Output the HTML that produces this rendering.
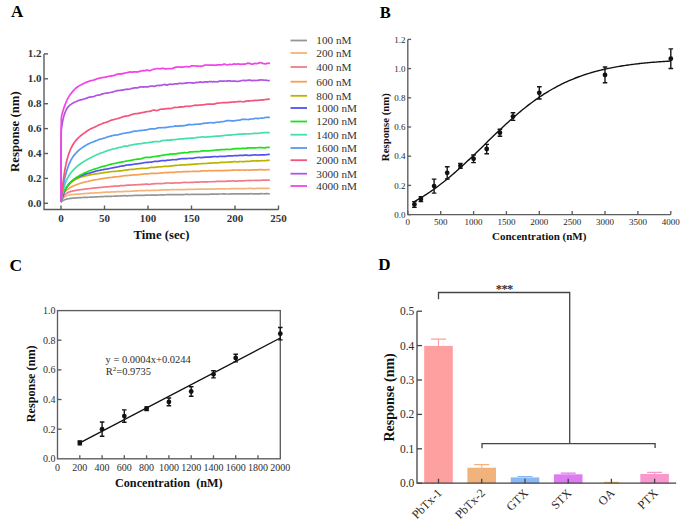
<!DOCTYPE html>
<html><head><meta charset="utf-8"><style>
html,body{margin:0;padding:0;background:#fff;width:686px;height:531px;overflow:hidden;position:relative}
</style></head><body>
<svg width="686" height="531" viewBox="0 0 686 531" style="position:absolute;left:0;top:0">
<g font-family='"Liberation Serif", serif' font-weight="bold" fill="#000">
<text x="11" y="17.3" font-size="17">A</text>
<text x="379.8" y="17.9" font-size="16.5">B</text>
<text x="9.6" y="271.4" font-size="17.5">C</text>
<text x="378.2" y="269.8" font-size="17">D</text>
</g>
<g stroke="#5c5c5c" stroke-width="1.4" fill="none">
<path d="M44,53.9 V209.5 H278.6"/>
<path d="M44,203.3 H48"/>
<path d="M44,178.4 H48"/>
<path d="M44,153.5 H48"/>
<path d="M44,128.6 H48"/>
<path d="M44,103.7 H48"/>
<path d="M44,78.8 H48"/>
<path d="M44,53.9 H48"/>
<path d="M61.0,209.5 V205.5"/>
<path d="M104.5,209.5 V205.5"/>
<path d="M148.0,209.5 V205.5"/>
<path d="M191.5,209.5 V205.5"/>
<path d="M235.0,209.5 V205.5"/>
<path d="M278.5,209.5 V205.5"/>
</g>
<g font-family='"Liberation Serif", serif' font-weight="bold" fill="#333" font-size="11">
<text x="41.5" y="206.8" text-anchor="end">0.0</text>
<text x="41.5" y="181.9" text-anchor="end">0.2</text>
<text x="41.5" y="157.0" text-anchor="end">0.4</text>
<text x="41.5" y="132.1" text-anchor="end">0.6</text>
<text x="41.5" y="107.2" text-anchor="end">0.8</text>
<text x="41.5" y="82.3" text-anchor="end">1.0</text>
<text x="41.5" y="57.4" text-anchor="end">1.2</text>
<text x="61.0" y="221.8" text-anchor="middle">0</text>
<text x="104.5" y="221.8" text-anchor="middle">50</text>
<text x="148.0" y="221.8" text-anchor="middle">100</text>
<text x="191.5" y="221.8" text-anchor="middle">150</text>
<text x="235.0" y="221.8" text-anchor="middle">200</text>
<text x="278.5" y="221.8" text-anchor="middle">250</text>
</g>
<text x="161.5" y="238.5" font-family='"Liberation Serif", serif' font-weight="bold" font-size="12.7" fill="#111" text-anchor="middle">Time (sec)</text>
<text transform="translate(18.5,131.6) rotate(-90)" font-family='"Liberation Serif", serif' font-weight="bold" font-size="12.8" fill="#111" text-anchor="middle">Response (nm)</text>
<polyline points="61.00,202.06 61.09,201.97 61.17,201.89 61.26,201.81 61.35,201.74 61.44,201.66 61.52,201.59 61.70,201.44 61.87,201.30 62.04,201.17 62.22,201.05 62.39,200.93 62.57,200.81 62.74,200.70 62.91,200.59 63.09,200.49 63.26,200.39 63.44,200.30 63.61,200.21 64.05,200.00 64.73,199.71 65.42,199.47 66.11,199.26 66.80,199.07 67.49,198.91 68.17,198.78 68.86,198.66 69.55,198.55 70.24,198.45 70.93,198.37 71.61,198.28 72.30,198.22 72.99,198.16 73.68,198.11 74.37,198.06 75.06,198.01 75.74,197.94 76.43,197.90 77.12,197.86 77.81,197.80 78.50,197.76 79.18,197.71 79.87,197.66 80.56,197.61 81.25,197.56 81.94,197.52 82.62,197.51 83.31,197.47 84.00,197.43 84.69,197.41 85.38,197.38 86.07,197.34 86.75,197.34 87.44,197.30 88.13,197.26 88.82,197.24 89.51,197.21 90.19,197.16 90.88,197.13 91.57,197.13 92.26,197.09 92.95,197.05 93.64,196.99 94.32,197.00 95.01,196.95 95.70,196.90 96.39,196.89 97.08,196.85 97.76,196.81 98.45,196.76 99.14,196.76 99.83,196.69 100.52,196.70 101.20,196.65 101.89,196.66 102.58,196.58 103.27,196.57 103.96,196.52 104.65,196.47 105.33,196.40 106.02,196.42 106.71,196.42 107.40,196.43 108.09,196.40 108.77,196.41 109.46,196.39 110.15,196.35 110.84,196.30 111.53,196.30 112.22,196.27 112.90,196.27 113.59,196.24 114.28,196.19 114.97,196.17 115.66,196.10 116.34,196.04 117.03,196.01 117.72,196.03 118.41,196.00 119.10,196.01 119.78,195.97 120.47,195.96 121.16,195.92 121.85,195.91 122.54,195.79 123.23,195.73 123.91,195.66 124.60,195.71 125.29,195.71 125.98,195.78 126.67,195.79 127.35,195.89 128.04,195.77 128.73,195.70 129.42,195.71 130.11,195.74 130.79,195.67 131.48,195.69 132.17,195.68 132.86,195.55 133.55,195.51 134.24,195.43 134.92,195.41 135.61,195.36 136.30,195.38 136.99,195.31 137.68,195.35 138.36,195.35 139.05,195.41 139.74,195.37 140.43,195.38 141.12,195.33 141.81,195.33 142.49,195.27 143.18,195.32 143.87,195.36 144.56,195.31 145.25,195.20 145.93,195.21 146.62,195.19 147.31,195.18 148.00,195.22 148.69,195.27 149.37,195.22 150.06,195.18 150.75,195.12 151.44,195.06 152.13,195.05 152.82,195.12 153.50,195.12 154.19,195.11 154.88,195.12 155.57,195.13 156.26,195.09 156.94,195.07 157.63,195.03 158.32,195.01 159.01,194.98 159.70,194.92 160.39,194.87 161.07,194.83 161.76,194.87 162.45,194.82 163.14,194.85 163.83,194.86 164.51,194.87 165.20,194.75 165.89,194.73 166.58,194.70 167.27,194.64 167.95,194.66 168.64,194.69 169.33,194.69 170.02,194.70 170.71,194.67 171.40,194.61 172.08,194.52 172.77,194.54 173.46,194.52 174.15,194.58 174.84,194.57 175.52,194.65 176.21,194.63 176.90,194.60 177.59,194.55 178.28,194.58 178.97,194.52 179.65,194.54 180.34,194.56 181.03,194.62 181.72,194.63 182.41,194.65 183.09,194.58 183.78,194.54 184.47,194.48 185.16,194.38 185.85,194.37 186.53,194.38 187.22,194.39 187.91,194.45 188.60,194.47 189.29,194.53 189.98,194.50 190.66,194.48 191.35,194.38 192.04,194.40 192.73,194.36 193.42,194.36 194.10,194.37 194.79,194.40 195.48,194.39 196.17,194.36 196.86,194.37 197.54,194.37 198.23,194.36 198.92,194.42 199.61,194.42 200.30,194.44 200.99,194.37 201.67,194.31 202.36,194.30 203.05,194.28 203.74,194.24 204.43,194.30 205.11,194.31 205.80,194.26 206.49,194.31 207.18,194.31 207.87,194.27 208.56,194.28 209.24,194.30 209.93,194.21 210.62,194.17 211.31,194.19 212.00,194.21 212.68,194.17 213.37,194.20 214.06,194.16 214.75,194.11 215.44,194.11 216.12,194.13 216.81,194.10 217.50,194.08 218.19,194.08 218.88,194.04 219.57,193.99 220.25,193.98 220.94,193.98 221.63,193.98 222.32,193.95 223.01,193.96 223.69,193.93 224.38,194.04 225.07,193.96 225.76,193.98 226.45,193.98 227.14,194.02 227.82,194.00 228.51,194.03 229.20,193.99 229.89,193.96 230.58,193.89 231.26,193.83 231.95,193.84 232.64,193.84 233.33,193.84 234.02,193.88 234.70,193.87 235.39,193.83 236.08,193.84 236.77,193.87 237.46,193.83 238.15,193.79 238.83,193.83 239.52,193.84 240.21,193.83 240.90,193.81 241.59,193.92 242.27,193.90 242.96,193.85 243.65,193.87 244.34,193.85 245.03,193.77 245.71,193.80 246.40,193.82 247.09,193.84 247.78,193.91 248.47,193.86 249.16,193.87 249.84,193.81 250.53,193.75 251.22,193.70 251.91,193.75 252.60,193.79 253.28,193.87 253.97,193.85 254.66,193.92 255.35,193.96 256.04,193.87 256.73,193.87 257.41,193.93 258.10,193.91 258.79,193.83 259.48,193.85 260.17,193.80 260.85,193.69 261.54,193.66 262.23,193.72 262.92,193.74 263.61,193.77 264.29,193.79 264.98,193.78 265.67,193.72 266.36,193.69 267.05,193.67 267.74,193.71 268.42,193.73 269.11,193.79 269.80,193.82" fill="none" stroke="#969696" stroke-width="1.7" stroke-linejoin="round"/>
<polyline points="61.00,202.05 61.09,201.83 61.17,201.62 61.26,201.41 61.35,201.21 61.44,201.02 61.52,200.83 61.70,200.47 61.87,200.13 62.04,199.81 62.22,199.51 62.39,199.23 62.57,198.97 62.74,198.72 62.91,198.49 63.09,198.27 63.26,198.06 63.44,197.87 63.61,197.69 64.05,197.27 64.73,196.73 65.42,196.31 66.11,195.96 66.80,195.68 67.49,195.45 68.17,195.27 68.86,195.11 69.55,194.97 70.24,194.86 70.93,194.77 71.61,194.68 72.30,194.58 72.99,194.52 73.68,194.44 74.37,194.40 75.06,194.34 75.74,194.28 76.43,194.22 77.12,194.17 77.81,194.11 78.50,194.04 79.18,194.00 79.87,193.96 80.56,193.89 81.25,193.83 81.94,193.78 82.62,193.74 83.31,193.66 84.00,193.61 84.69,193.57 85.38,193.54 86.07,193.48 86.75,193.45 87.44,193.41 88.13,193.35 88.82,193.29 89.51,193.22 90.19,193.17 90.88,193.13 91.57,193.13 92.26,193.09 92.95,193.06 93.64,193.02 94.32,192.97 95.01,192.90 95.70,192.87 96.39,192.86 97.08,192.80 97.76,192.77 98.45,192.73 99.14,192.71 99.83,192.65 100.52,192.61 101.20,192.57 101.89,192.53 102.58,192.44 103.27,192.36 103.96,192.33 104.65,192.29 105.33,192.21 106.02,192.19 106.71,192.16 107.40,192.17 108.09,192.11 108.77,192.10 109.46,192.03 110.15,192.06 110.84,191.99 111.53,191.97 112.22,191.95 112.90,191.95 113.59,191.84 114.28,191.81 114.97,191.82 115.66,191.78 116.34,191.73 117.03,191.68 117.72,191.67 118.41,191.61 119.10,191.57 119.78,191.54 120.47,191.58 121.16,191.59 121.85,191.56 122.54,191.57 123.23,191.59 123.91,191.53 124.60,191.44 125.29,191.45 125.98,191.36 126.67,191.37 127.35,191.32 128.04,191.37 128.73,191.35 129.42,191.33 130.11,191.25 130.79,191.27 131.48,191.20 132.17,191.11 132.86,191.11 133.55,191.07 134.24,190.98 134.92,190.96 135.61,190.97 136.30,190.96 136.99,190.89 137.68,190.87 138.36,190.77 139.05,190.73 139.74,190.69 140.43,190.68 141.12,190.70 141.81,190.69 142.49,190.64 143.18,190.64 143.87,190.65 144.56,190.61 145.25,190.56 145.93,190.47 146.62,190.42 147.31,190.40 148.00,190.45 148.69,190.48 149.37,190.55 150.06,190.57 150.75,190.52 151.44,190.47 152.13,190.46 152.82,190.43 153.50,190.42 154.19,190.40 154.88,190.28 155.57,190.30 156.26,190.34 156.94,190.25 157.63,190.26 158.32,190.32 159.01,190.26 159.70,190.20 160.39,190.20 161.07,190.15 161.76,190.08 162.45,189.98 163.14,189.91 163.83,189.86 164.51,189.83 165.20,189.78 165.89,189.80 166.58,189.88 167.27,189.85 167.95,189.87 168.64,189.84 169.33,189.84 170.02,189.76 170.71,189.77 171.40,189.69 172.08,189.72 172.77,189.72 173.46,189.71 174.15,189.72 174.84,189.76 175.52,189.75 176.21,189.71 176.90,189.64 177.59,189.62 178.28,189.61 178.97,189.60 179.65,189.57 180.34,189.67 181.03,189.66 181.72,189.65 182.41,189.61 183.09,189.62 183.78,189.58 184.47,189.57 185.16,189.53 185.85,189.49 186.53,189.46 187.22,189.42 187.91,189.36 188.60,189.40 189.29,189.45 189.98,189.45 190.66,189.43 191.35,189.44 192.04,189.43 192.73,189.37 193.42,189.28 194.10,189.29 194.79,189.26 195.48,189.20 196.17,189.20 196.86,189.30 197.54,189.22 198.23,189.23 198.92,189.19 199.61,189.20 200.30,189.15 200.99,189.20 201.67,189.14 202.36,189.20 203.05,189.20 203.74,189.20 204.43,189.24 205.11,189.21 205.80,189.15 206.49,189.13 207.18,189.06 207.87,189.02 208.56,189.05 209.24,189.00 209.93,188.95 210.62,189.07 211.31,189.14 212.00,189.16 212.68,189.18 213.37,189.22 214.06,189.13 214.75,188.98 215.44,188.97 216.12,188.99 216.81,188.93 217.50,188.90 218.19,188.89 218.88,188.87 219.57,188.85 220.25,188.89 220.94,188.85 221.63,188.76 222.32,188.75 223.01,188.84 223.69,188.83 224.38,188.85 225.07,188.90 225.76,188.82 226.45,188.77 227.14,188.77 227.82,188.73 228.51,188.80 229.20,188.79 229.89,188.76 230.58,188.69 231.26,188.70 231.95,188.63 232.64,188.63 233.33,188.65 234.02,188.66 234.70,188.67 235.39,188.68 236.08,188.66 236.77,188.62 237.46,188.65 238.15,188.67 238.83,188.69 239.52,188.69 240.21,188.71 240.90,188.63 241.59,188.59 242.27,188.58 242.96,188.64 243.65,188.60 244.34,188.61 245.03,188.67 245.71,188.61 246.40,188.50 247.09,188.49 247.78,188.49 248.47,188.33 249.16,188.32 249.84,188.41 250.53,188.41 251.22,188.43 251.91,188.52 252.60,188.64 253.28,188.57 253.97,188.59 254.66,188.57 255.35,188.56 256.04,188.44 256.73,188.47 257.41,188.47 258.10,188.45 258.79,188.39 259.48,188.42 260.17,188.36 260.85,188.31 261.54,188.35 262.23,188.34 262.92,188.35 263.61,188.35 264.29,188.38 264.98,188.33 265.67,188.43 266.36,188.42 267.05,188.41 267.74,188.38 268.42,188.39 269.11,188.36 269.80,188.31" fill="none" stroke="#f3b37a" stroke-width="1.7" stroke-linejoin="round"/>
<polyline points="61.00,202.05 61.09,201.78 61.17,201.52 61.26,201.26 61.35,201.01 61.44,200.77 61.52,200.53 61.70,200.07 61.87,199.64 62.04,199.23 62.22,198.84 62.39,198.46 62.57,198.11 62.74,197.77 62.91,197.45 63.09,197.14 63.26,196.85 63.44,196.58 63.61,196.32 64.05,195.71 64.73,194.89 65.42,194.21 66.11,193.64 66.80,193.16 67.49,192.76 68.17,192.42 68.86,192.11 69.55,191.86 70.24,191.63 70.93,191.43 71.61,191.26 72.30,191.10 72.99,190.94 73.68,190.80 74.37,190.67 75.06,190.54 75.74,190.42 76.43,190.30 77.12,190.18 77.81,190.07 78.50,189.95 79.18,189.86 79.87,189.77 80.56,189.67 81.25,189.58 81.94,189.51 82.62,189.42 83.31,189.33 84.00,189.23 84.69,189.11 85.38,189.05 86.07,188.97 86.75,188.88 87.44,188.82 88.13,188.77 88.82,188.69 89.51,188.59 90.19,188.51 90.88,188.44 91.57,188.37 92.26,188.23 92.95,188.22 93.64,188.16 94.32,188.05 95.01,187.95 95.70,187.91 96.39,187.80 97.08,187.69 97.76,187.70 98.45,187.62 99.14,187.55 99.83,187.48 100.52,187.43 101.20,187.37 101.89,187.32 102.58,187.27 103.27,187.19 103.96,187.14 104.65,187.01 105.33,186.94 106.02,186.89 106.71,186.84 107.40,186.80 108.09,186.74 108.77,186.68 109.46,186.60 110.15,186.53 110.84,186.48 111.53,186.43 112.22,186.40 112.90,186.35 113.59,186.25 114.28,186.20 114.97,186.18 115.66,186.15 116.34,186.11 117.03,186.16 117.72,186.09 118.41,186.05 119.10,185.94 119.78,185.82 120.47,185.71 121.16,185.62 121.85,185.56 122.54,185.52 123.23,185.56 123.91,185.59 124.60,185.57 125.29,185.46 125.98,185.39 126.67,185.33 127.35,185.15 128.04,185.12 128.73,185.17 129.42,185.19 130.11,185.17 130.79,185.20 131.48,185.06 132.17,185.00 132.86,184.95 133.55,184.89 134.24,184.85 134.92,184.97 135.61,184.91 136.30,184.80 136.99,184.72 137.68,184.65 138.36,184.59 139.05,184.63 139.74,184.57 140.43,184.49 141.12,184.55 141.81,184.45 142.49,184.34 143.18,184.33 143.87,184.33 144.56,184.25 145.25,184.22 145.93,184.18 146.62,184.16 147.31,184.22 148.00,184.28 148.69,184.29 149.37,184.33 150.06,184.29 150.75,184.14 151.44,183.97 152.13,183.92 152.82,183.82 153.50,183.75 154.19,183.78 154.88,183.72 155.57,183.64 156.26,183.60 156.94,183.55 157.63,183.52 158.32,183.49 159.01,183.53 159.70,183.54 160.39,183.62 161.07,183.54 161.76,183.58 162.45,183.51 163.14,183.50 163.83,183.38 164.51,183.29 165.20,183.22 165.89,183.12 166.58,183.02 167.27,182.95 167.95,182.99 168.64,183.04 169.33,183.01 170.02,183.02 170.71,183.12 171.40,183.13 172.08,183.10 172.77,183.14 173.46,183.16 174.15,183.02 174.84,182.94 175.52,182.92 176.21,182.95 176.90,182.90 177.59,183.02 178.28,183.02 178.97,182.93 179.65,182.87 180.34,182.85 181.03,182.72 181.72,182.63 182.41,182.54 183.09,182.48 183.78,182.40 184.47,182.42 185.16,182.44 185.85,182.52 186.53,182.47 187.22,182.53 187.91,182.52 188.60,182.51 189.29,182.42 189.98,182.49 190.66,182.44 191.35,182.37 192.04,182.33 192.73,182.37 193.42,182.28 194.10,182.25 194.79,182.17 195.48,182.14 196.17,182.13 196.86,182.21 197.54,182.17 198.23,182.16 198.92,182.15 199.61,182.03 200.30,181.94 200.99,181.98 201.67,181.98 202.36,181.96 203.05,181.94 203.74,181.96 204.43,181.87 205.11,181.91 205.80,181.86 206.49,181.89 207.18,181.84 207.87,181.85 208.56,181.75 209.24,181.76 209.93,181.75 210.62,181.74 211.31,181.74 212.00,181.71 212.68,181.77 213.37,181.75 214.06,181.66 214.75,181.55 215.44,181.60 216.12,181.47 216.81,181.38 217.50,181.35 218.19,181.37 218.88,181.28 219.57,181.28 220.25,181.23 220.94,181.30 221.63,181.24 222.32,181.34 223.01,181.39 223.69,181.41 224.38,181.38 225.07,181.38 225.76,181.36 226.45,181.21 227.14,181.21 227.82,181.20 228.51,181.19 229.20,181.09 229.89,181.17 230.58,181.13 231.26,180.98 231.95,180.93 232.64,180.95 233.33,180.92 234.02,180.90 234.70,181.03 235.39,181.18 236.08,181.18 236.77,181.19 237.46,181.12 238.15,181.03 238.83,180.93 239.52,180.93 240.21,180.85 240.90,180.94 241.59,180.95 242.27,180.89 242.96,180.82 243.65,180.82 244.34,180.76 245.03,180.67 245.71,180.57 246.40,180.63 247.09,180.51 247.78,180.49 248.47,180.47 249.16,180.56 249.84,180.46 250.53,180.54 251.22,180.52 251.91,180.52 252.60,180.44 253.28,180.48 253.97,180.48 254.66,180.44 255.35,180.43 256.04,180.45 256.73,180.40 257.41,180.39 258.10,180.44 258.79,180.51 259.48,180.41 260.17,180.40 260.85,180.37 261.54,180.34 262.23,180.22 262.92,180.19 263.61,180.17 264.29,180.13 264.98,180.12 265.67,180.08 266.36,180.10 267.05,180.11 267.74,180.06 268.42,180.00 269.11,180.04 269.80,180.04" fill="none" stroke="#f27a86" stroke-width="1.7" stroke-linejoin="round"/>
<polyline points="61.00,202.05 61.09,200.41 61.17,199.13 61.26,198.13 61.35,197.34 61.44,196.72 61.52,196.22 61.70,195.49 61.87,194.98 62.04,194.61 62.22,194.31 62.39,194.06 62.57,193.83 62.74,193.62 62.91,193.42 63.09,193.24 63.26,193.05 63.44,192.87 63.61,192.70 64.05,192.28 64.73,191.64 65.42,191.04 66.11,190.48 66.80,189.95 67.49,189.44 68.17,188.95 68.86,188.49 69.55,188.06 70.24,187.64 70.93,187.23 71.61,186.88 72.30,186.53 72.99,186.18 73.68,185.85 74.37,185.53 75.06,185.22 75.74,184.94 76.43,184.67 77.12,184.42 77.81,184.19 78.50,183.94 79.18,183.71 79.87,183.48 80.56,183.25 81.25,183.04 81.94,182.84 82.62,182.63 83.31,182.45 84.00,182.27 84.69,182.08 85.38,181.95 86.07,181.80 86.75,181.65 87.44,181.48 88.13,181.31 88.82,181.12 89.51,180.97 90.19,180.77 90.88,180.62 91.57,180.48 92.26,180.32 92.95,180.19 93.64,180.09 94.32,179.98 95.01,179.86 95.70,179.74 96.39,179.64 97.08,179.56 97.76,179.50 98.45,179.39 99.14,179.25 99.83,179.08 100.52,178.95 101.20,178.84 101.89,178.70 102.58,178.62 103.27,178.59 103.96,178.42 104.65,178.27 105.33,178.16 106.02,178.06 106.71,177.89 107.40,177.82 108.09,177.76 108.77,177.71 109.46,177.65 110.15,177.56 110.84,177.52 111.53,177.45 112.22,177.33 112.90,177.18 113.59,177.07 114.28,176.91 114.97,176.83 115.66,176.79 116.34,176.77 117.03,176.75 117.72,176.80 118.41,176.66 119.10,176.54 119.78,176.48 120.47,176.40 121.16,176.19 121.85,176.11 122.54,176.00 123.23,175.85 123.91,175.76 124.60,175.72 125.29,175.67 125.98,175.59 126.67,175.58 127.35,175.56 128.04,175.48 128.73,175.43 129.42,175.40 130.11,175.26 130.79,175.16 131.48,175.12 132.17,174.98 132.86,174.90 133.55,174.96 134.24,174.97 134.92,174.85 135.61,174.81 136.30,174.89 136.99,174.82 137.68,174.70 138.36,174.75 139.05,174.69 139.74,174.52 140.43,174.38 141.12,174.38 141.81,174.25 142.49,174.12 143.18,174.11 143.87,174.02 144.56,173.86 145.25,173.81 145.93,173.85 146.62,173.82 147.31,173.87 148.00,173.83 148.69,173.76 149.37,173.65 150.06,173.50 150.75,173.37 151.44,173.38 152.13,173.43 152.82,173.44 153.50,173.41 154.19,173.40 154.88,173.41 155.57,173.33 156.26,173.37 156.94,173.34 157.63,173.35 158.32,173.24 159.01,173.16 159.70,173.04 160.39,172.94 161.07,172.90 161.76,172.96 162.45,172.88 163.14,172.78 163.83,172.74 164.51,172.63 165.20,172.47 165.89,172.47 166.58,172.56 167.27,172.61 167.95,172.57 168.64,172.58 169.33,172.46 170.02,172.43 170.71,172.39 171.40,172.33 172.08,172.29 172.77,172.40 173.46,172.36 174.15,172.34 174.84,172.29 175.52,172.20 176.21,172.09 176.90,172.02 177.59,171.91 178.28,171.95 178.97,171.98 179.65,171.99 180.34,171.93 181.03,171.88 181.72,171.86 182.41,171.76 183.09,171.61 183.78,171.63 184.47,171.71 185.16,171.63 185.85,171.61 186.53,171.68 187.22,171.60 187.91,171.53 188.60,171.52 189.29,171.53 189.98,171.46 190.66,171.51 191.35,171.50 192.04,171.49 192.73,171.47 193.42,171.45 194.10,171.37 194.79,171.34 195.48,171.31 196.17,171.28 196.86,171.37 197.54,171.40 198.23,171.38 198.92,171.39 199.61,171.34 200.30,171.20 200.99,171.09 201.67,170.95 202.36,170.84 203.05,170.83 203.74,170.77 204.43,170.72 205.11,170.81 205.80,170.83 206.49,170.75 207.18,170.79 207.87,170.78 208.56,170.72 209.24,170.68 209.93,170.73 210.62,170.70 211.31,170.75 212.00,170.71 212.68,170.81 213.37,170.76 214.06,170.70 214.75,170.63 215.44,170.65 216.12,170.52 216.81,170.56 217.50,170.64 218.19,170.67 218.88,170.66 219.57,170.62 220.25,170.60 220.94,170.50 221.63,170.54 222.32,170.55 223.01,170.59 223.69,170.47 224.38,170.53 225.07,170.54 225.76,170.47 226.45,170.45 227.14,170.54 227.82,170.55 228.51,170.46 229.20,170.46 229.89,170.42 230.58,170.42 231.26,170.25 231.95,170.20 232.64,170.21 233.33,170.19 234.02,170.10 234.70,170.09 235.39,170.02 236.08,170.01 236.77,170.04 237.46,170.06 238.15,170.17 238.83,170.18 239.52,170.18 240.21,170.07 240.90,170.04 241.59,170.02 242.27,169.99 242.96,170.04 243.65,170.15 244.34,170.11 245.03,170.09 245.71,170.12 246.40,170.00 247.09,169.97 247.78,169.99 248.47,170.05 249.16,170.13 249.84,170.07 250.53,170.08 251.22,170.09 251.91,169.95 252.60,169.80 253.28,169.87 253.97,169.84 254.66,169.80 255.35,169.91 256.04,169.92 256.73,169.88 257.41,169.84 258.10,169.79 258.79,169.70 259.48,169.63 260.17,169.55 260.85,169.63 261.54,169.61 262.23,169.69 262.92,169.84 263.61,169.87 264.29,169.81 264.98,169.86 265.67,169.75 266.36,169.70 267.05,169.77 267.74,169.71 268.42,169.63 269.11,169.65 269.80,169.68" fill="none" stroke="#f7a055" stroke-width="1.7" stroke-linejoin="round"/>
<polyline points="61.00,202.05 61.09,201.05 61.17,200.23 61.26,199.55 61.35,198.98 61.44,198.49 61.52,198.06 61.70,197.34 61.87,196.74 62.04,196.21 62.22,195.73 62.39,195.28 62.57,194.85 62.74,194.44 62.91,194.05 63.09,193.66 63.26,193.28 63.44,192.91 63.61,192.55 64.05,191.68 64.73,190.40 65.42,189.23 66.11,188.15 66.80,187.15 67.49,186.24 68.17,185.39 68.86,184.62 69.55,183.90 70.24,183.22 70.93,182.61 71.61,182.04 72.30,181.49 72.99,181.00 73.68,180.53 74.37,180.11 75.06,179.69 75.74,179.33 76.43,178.97 77.12,178.64 77.81,178.36 78.50,178.08 79.18,177.79 79.87,177.52 80.56,177.28 81.25,177.03 81.94,176.81 82.62,176.62 83.31,176.45 84.00,176.25 84.69,176.06 85.38,175.91 86.07,175.74 86.75,175.62 87.44,175.46 88.13,175.33 88.82,175.16 89.51,175.04 90.19,174.86 90.88,174.74 91.57,174.57 92.26,174.49 92.95,174.32 93.64,174.21 94.32,174.12 95.01,174.02 95.70,173.88 96.39,173.81 97.08,173.71 97.76,173.58 98.45,173.49 99.14,173.39 99.83,173.31 100.52,173.20 101.20,173.10 101.89,172.97 102.58,172.87 103.27,172.70 103.96,172.59 104.65,172.54 105.33,172.47 106.02,172.41 106.71,172.36 107.40,172.23 108.09,172.12 108.77,172.06 109.46,171.84 110.15,171.76 110.84,171.70 111.53,171.58 112.22,171.49 112.90,171.51 113.59,171.42 114.28,171.45 114.97,171.34 115.66,171.30 116.34,171.26 117.03,171.18 117.72,170.99 118.41,171.03 119.10,170.90 119.78,170.82 120.47,170.80 121.16,170.80 121.85,170.70 122.54,170.62 123.23,170.48 123.91,170.36 124.60,170.17 125.29,170.05 125.98,170.03 126.67,169.97 127.35,169.83 128.04,169.80 128.73,169.71 129.42,169.61 130.11,169.51 130.79,169.50 131.48,169.43 132.17,169.39 132.86,169.35 133.55,169.34 134.24,169.27 134.92,169.16 135.61,169.03 136.30,168.92 136.99,168.85 137.68,168.77 138.36,168.71 139.05,168.77 139.74,168.66 140.43,168.52 141.12,168.40 141.81,168.42 142.49,168.35 143.18,168.28 143.87,168.34 144.56,168.41 145.25,168.34 145.93,168.26 146.62,168.34 147.31,168.19 148.00,168.04 148.69,167.89 149.37,167.75 150.06,167.60 150.75,167.45 151.44,167.41 152.13,167.32 152.82,167.36 153.50,167.26 154.19,167.34 154.88,167.29 155.57,167.28 156.26,167.19 156.94,167.14 157.63,166.96 158.32,166.89 159.01,166.81 159.70,166.74 160.39,166.73 161.07,166.79 161.76,166.75 162.45,166.66 163.14,166.53 163.83,166.44 164.51,166.39 165.20,166.31 165.89,166.33 166.58,166.40 167.27,166.44 167.95,166.34 168.64,166.36 169.33,166.20 170.02,166.04 170.71,165.95 171.40,165.91 172.08,165.72 172.77,165.80 173.46,165.71 174.15,165.58 174.84,165.42 175.52,165.43 176.21,165.35 176.90,165.31 177.59,165.27 178.28,165.25 178.97,165.23 179.65,165.05 180.34,165.03 181.03,164.96 181.72,165.00 182.41,164.94 183.09,165.00 183.78,164.93 184.47,164.86 185.16,164.80 185.85,164.80 186.53,164.70 187.22,164.67 187.91,164.71 188.60,164.57 189.29,164.44 189.98,164.59 190.66,164.55 191.35,164.42 192.04,164.39 192.73,164.42 193.42,164.14 194.10,164.12 194.79,164.13 195.48,164.12 196.17,164.05 196.86,164.04 197.54,163.90 198.23,163.85 198.92,163.73 199.61,163.73 200.30,163.74 200.99,163.65 201.67,163.60 202.36,163.58 203.05,163.52 203.74,163.48 204.43,163.53 205.11,163.49 205.80,163.52 206.49,163.45 207.18,163.36 207.87,163.25 208.56,163.21 209.24,163.12 209.93,163.03 210.62,163.08 211.31,163.19 212.00,163.07 212.68,162.99 213.37,163.00 214.06,162.88 214.75,162.81 215.44,162.93 216.12,162.94 216.81,162.98 217.50,162.92 218.19,162.86 218.88,162.73 219.57,162.61 220.25,162.39 220.94,162.42 221.63,162.29 222.32,162.32 223.01,162.42 223.69,162.46 224.38,162.33 225.07,162.38 225.76,162.26 226.45,162.19 227.14,162.24 227.82,162.29 228.51,162.14 229.20,162.14 229.89,162.08 230.58,161.93 231.26,161.93 231.95,161.91 232.64,161.79 233.33,161.70 234.02,161.63 234.70,161.59 235.39,161.65 236.08,161.74 236.77,161.84 237.46,161.92 238.15,161.80 238.83,161.66 239.52,161.62 240.21,161.50 240.90,161.49 241.59,161.53 242.27,161.62 242.96,161.65 243.65,161.65 244.34,161.55 245.03,161.52 245.71,161.46 246.40,161.40 247.09,161.38 247.78,161.38 248.47,161.32 249.16,161.32 249.84,161.23 250.53,161.16 251.22,161.03 251.91,160.96 252.60,160.85 253.28,160.87 253.97,160.97 254.66,161.00 255.35,160.95 256.04,160.85 256.73,160.92 257.41,160.83 258.10,160.82 258.79,160.92 259.48,160.97 260.17,160.80 260.85,160.76 261.54,160.72 262.23,160.72 262.92,160.75 263.61,160.77 264.29,160.67 264.98,160.73 265.67,160.63 266.36,160.50 267.05,160.43 267.74,160.41 268.42,160.33 269.11,160.27 269.80,160.23" fill="none" stroke="#b9b400" stroke-width="1.7" stroke-linejoin="round"/>
<polyline points="61.00,202.05 61.09,201.71 61.17,201.39 61.26,201.06 61.35,200.74 61.44,200.43 61.52,200.11 61.70,199.50 61.87,198.91 62.04,198.33 62.22,197.77 62.39,197.22 62.57,196.69 62.74,196.17 62.91,195.66 63.09,195.17 63.26,194.68 63.44,194.21 63.61,193.75 64.05,192.66 64.73,191.07 65.42,189.63 66.11,188.32 66.80,187.13 67.49,186.03 68.17,185.05 68.86,184.17 69.55,183.34 70.24,182.60 70.93,181.91 71.61,181.26 72.30,180.66 72.99,180.12 73.68,179.59 74.37,179.10 75.06,178.64 75.74,178.20 76.43,177.79 77.12,177.45 77.81,177.07 78.50,176.75 79.18,176.44 79.87,176.15 80.56,175.87 81.25,175.67 81.94,175.44 82.62,175.18 83.31,174.90 84.00,174.67 84.69,174.39 85.38,174.11 86.07,173.95 86.75,173.73 87.44,173.53 88.13,173.35 88.82,173.23 89.51,172.98 90.19,172.83 90.88,172.58 91.57,172.40 92.26,172.14 92.95,172.00 93.64,171.82 94.32,171.64 95.01,171.37 95.70,171.17 96.39,171.01 97.08,170.83 97.76,170.68 98.45,170.58 99.14,170.44 99.83,170.25 100.52,170.16 101.20,170.04 101.89,169.85 102.58,169.76 103.27,169.63 103.96,169.41 104.65,169.33 105.33,169.25 106.02,169.14 106.71,169.02 107.40,168.97 108.09,168.82 108.77,168.70 109.46,168.51 110.15,168.36 110.84,168.27 111.53,168.03 112.22,167.89 112.90,167.80 113.59,167.69 114.28,167.44 114.97,167.43 115.66,167.31 116.34,167.16 117.03,166.98 117.72,166.91 118.41,166.72 119.10,166.56 119.78,166.42 120.47,166.27 121.16,166.11 121.85,166.08 122.54,165.96 123.23,165.83 123.91,165.79 124.60,165.67 125.29,165.36 125.98,165.25 126.67,165.12 127.35,165.02 128.04,164.85 128.73,164.88 129.42,164.83 130.11,164.82 130.79,164.67 131.48,164.60 132.17,164.59 132.86,164.49 133.55,164.27 134.24,164.14 134.92,164.17 135.61,164.00 136.30,163.81 136.99,163.78 137.68,163.77 138.36,163.63 139.05,163.59 139.74,163.54 140.43,163.40 141.12,163.36 141.81,163.23 142.49,163.00 143.18,162.90 143.87,162.77 144.56,162.63 145.25,162.47 145.93,162.49 146.62,162.31 147.31,162.30 148.00,162.23 148.69,162.28 149.37,162.17 150.06,162.23 150.75,162.16 151.44,162.06 152.13,161.89 152.82,161.73 153.50,161.64 154.19,161.45 154.88,161.41 155.57,161.43 156.26,161.47 156.94,161.34 157.63,161.43 158.32,161.38 159.01,161.17 159.70,160.93 160.39,160.81 161.07,160.73 161.76,160.58 162.45,160.53 163.14,160.56 163.83,160.66 164.51,160.53 165.20,160.56 165.89,160.61 166.58,160.42 167.27,160.22 167.95,160.22 168.64,160.14 169.33,159.98 170.02,160.08 170.71,160.02 171.40,159.90 172.08,159.76 172.77,159.71 173.46,159.68 174.15,159.76 174.84,159.73 175.52,159.70 176.21,159.67 176.90,159.55 177.59,159.38 178.28,159.22 178.97,159.17 179.65,159.02 180.34,158.84 181.03,158.76 181.72,158.72 182.41,158.54 183.09,158.53 183.78,158.58 184.47,158.56 185.16,158.56 185.85,158.65 186.53,158.59 187.22,158.48 187.91,158.48 188.60,158.39 189.29,158.26 189.98,158.27 190.66,158.34 191.35,158.25 192.04,158.31 192.73,158.28 193.42,158.22 194.10,158.00 194.79,157.87 195.48,157.73 196.17,157.68 196.86,157.51 197.54,157.49 198.23,157.49 198.92,157.43 199.61,157.47 200.30,157.55 200.99,157.61 201.67,157.62 202.36,157.47 203.05,157.45 203.74,157.39 204.43,157.32 205.11,157.20 205.80,157.16 206.49,157.09 207.18,157.09 207.87,157.07 208.56,157.04 209.24,157.13 209.93,157.05 210.62,156.90 211.31,156.93 212.00,156.93 212.68,156.79 213.37,156.60 214.06,156.57 214.75,156.52 215.44,156.50 216.12,156.60 216.81,156.74 217.50,156.78 218.19,156.61 218.88,156.51 219.57,156.47 220.25,156.41 220.94,156.42 221.63,156.39 222.32,156.49 223.01,156.40 223.69,156.40 224.38,156.36 225.07,156.49 225.76,156.28 226.45,156.27 227.14,155.99 227.82,155.95 228.51,155.90 229.20,155.89 229.89,155.82 230.58,155.97 231.26,156.00 231.95,155.81 232.64,155.78 233.33,155.76 234.02,155.75 234.70,155.56 235.39,155.65 236.08,155.66 236.77,155.66 237.46,155.52 238.15,155.56 238.83,155.52 239.52,155.43 240.21,155.38 240.90,155.43 241.59,155.39 242.27,155.28 242.96,155.36 243.65,155.32 244.34,155.17 245.03,155.11 245.71,155.19 246.40,155.19 247.09,155.19 247.78,155.36 248.47,155.45 249.16,155.42 249.84,155.39 250.53,155.33 251.22,155.31 251.91,155.10 252.60,155.08 253.28,154.98 253.97,154.97 254.66,154.85 255.35,154.87 256.04,154.87 256.73,154.99 257.41,155.02 258.10,155.11 258.79,155.16 259.48,155.03 260.17,154.88 260.85,154.88 261.54,154.83 262.23,154.79 262.92,154.84 263.61,154.90 264.29,154.83 264.98,154.80 265.67,154.75 266.36,154.75 267.05,154.57 267.74,154.52 268.42,154.44 269.11,154.44 269.80,154.36" fill="none" stroke="#5252ee" stroke-width="1.7" stroke-linejoin="round"/>
<polyline points="61.00,202.05 61.09,200.58 61.17,199.45 61.26,198.57 61.35,197.88 61.44,197.33 61.52,196.88 61.70,196.17 61.87,195.63 62.04,195.17 62.22,194.77 62.39,194.39 62.57,194.03 62.74,193.69 62.91,193.35 63.09,193.02 63.26,192.70 63.44,192.39 63.61,192.08 64.05,191.31 64.73,190.15 65.42,189.08 66.11,188.05 66.80,187.06 67.49,186.15 68.17,185.27 68.86,184.44 69.55,183.67 70.24,182.92 70.93,182.19 71.61,181.51 72.30,180.85 72.99,180.22 73.68,179.64 74.37,179.10 75.06,178.55 75.74,178.04 76.43,177.54 77.12,177.06 77.81,176.61 78.50,176.17 79.18,175.74 79.87,175.35 80.56,174.96 81.25,174.57 81.94,174.24 82.62,173.90 83.31,173.53 84.00,173.20 84.69,172.89 85.38,172.55 86.07,172.22 86.75,171.96 87.44,171.67 88.13,171.34 88.82,171.04 89.51,170.80 90.19,170.48 90.88,170.24 91.57,169.98 92.26,169.79 92.95,169.53 93.64,169.30 94.32,169.11 95.01,168.97 95.70,168.74 96.39,168.53 97.08,168.33 97.76,168.06 98.45,167.78 99.14,167.53 99.83,167.32 100.52,167.11 101.20,166.91 101.89,166.68 102.58,166.54 103.27,166.34 103.96,166.19 104.65,166.06 105.33,165.90 106.02,165.68 106.71,165.53 107.40,165.29 108.09,165.00 108.77,164.73 109.46,164.59 110.15,164.35 110.84,164.19 111.53,164.08 112.22,163.98 112.90,163.79 113.59,163.64 114.28,163.50 114.97,163.39 115.66,163.26 116.34,163.11 117.03,162.94 117.72,162.77 118.41,162.57 119.10,162.35 119.78,162.28 120.47,162.22 121.16,162.06 121.85,161.96 122.54,161.96 123.23,161.71 123.91,161.56 124.60,161.51 125.29,161.26 125.98,161.14 126.67,161.07 127.35,160.97 128.04,160.77 128.73,160.72 129.42,160.57 130.11,160.44 130.79,160.28 131.48,160.23 132.17,160.06 132.86,159.87 133.55,159.76 134.24,159.67 134.92,159.50 135.61,159.45 136.30,159.37 136.99,159.15 137.68,159.16 138.36,159.16 139.05,159.07 139.74,159.04 140.43,159.02 141.12,158.78 141.81,158.49 142.49,158.33 143.18,158.01 143.87,157.84 144.56,157.60 145.25,157.50 145.93,157.34 146.62,157.29 147.31,157.28 148.00,157.34 148.69,157.35 149.37,157.29 150.06,157.38 150.75,157.22 151.44,157.09 152.13,156.86 152.82,156.78 153.50,156.57 154.19,156.49 154.88,156.49 155.57,156.42 156.26,156.31 156.94,156.29 157.63,156.14 158.32,155.90 159.01,155.81 159.70,155.85 160.39,155.59 161.07,155.52 161.76,155.42 162.45,155.41 163.14,155.18 163.83,155.05 164.51,154.97 165.20,154.82 165.89,154.70 166.58,154.66 167.27,154.63 167.95,154.56 168.64,154.36 169.33,154.21 170.02,154.17 170.71,154.06 171.40,154.06 172.08,154.14 172.77,154.04 173.46,153.95 174.15,153.95 174.84,153.86 175.52,153.80 176.21,153.82 176.90,153.59 177.59,153.45 178.28,153.33 178.97,153.36 179.65,153.10 180.34,153.06 181.03,153.00 181.72,152.90 182.41,152.72 183.09,152.81 183.78,152.70 184.47,152.65 185.16,152.69 185.85,152.68 186.53,152.75 187.22,152.76 187.91,152.65 188.60,152.38 189.29,152.13 189.98,151.94 190.66,151.89 191.35,151.81 192.04,151.81 192.73,151.92 193.42,151.75 194.10,151.69 194.79,151.60 195.48,151.59 196.17,151.52 196.86,151.54 197.54,151.54 198.23,151.62 198.92,151.58 199.61,151.47 200.30,151.35 200.99,151.18 201.67,151.00 202.36,150.88 203.05,150.93 203.74,150.87 204.43,150.82 205.11,150.93 205.80,150.99 206.49,150.92 207.18,150.97 207.87,151.02 208.56,150.94 209.24,150.79 209.93,150.75 210.62,150.64 211.31,150.60 212.00,150.55 212.68,150.46 213.37,150.33 214.06,150.24 214.75,150.17 215.44,150.02 216.12,149.99 216.81,149.96 217.50,150.06 218.19,149.94 218.88,149.89 219.57,149.87 220.25,149.80 220.94,149.63 221.63,149.62 222.32,149.69 223.01,149.66 223.69,149.61 224.38,149.61 225.07,149.64 225.76,149.41 226.45,149.32 227.14,149.32 227.82,149.27 228.51,149.34 229.20,149.51 229.89,149.52 230.58,149.38 231.26,149.44 231.95,149.27 232.64,149.01 233.33,148.91 234.02,148.93 234.70,148.67 235.39,148.59 236.08,148.69 236.77,148.65 237.46,148.58 238.15,148.69 238.83,148.55 239.52,148.61 240.21,148.67 240.90,148.48 241.59,148.41 242.27,148.43 242.96,148.34 243.65,148.28 244.34,148.50 245.03,148.45 245.71,148.42 246.40,148.20 247.09,148.09 247.78,147.90 248.47,147.88 249.16,147.79 249.84,147.83 250.53,147.77 251.22,147.86 251.91,147.81 252.60,147.79 253.28,147.75 253.97,147.80 254.66,147.79 255.35,147.75 256.04,147.78 256.73,147.74 257.41,147.75 258.10,147.70 258.79,147.63 259.48,147.71 260.17,147.67 260.85,147.60 261.54,147.56 262.23,147.72 262.92,147.72 263.61,147.82 264.29,147.83 264.98,147.87 265.67,147.66 266.36,147.52 267.05,147.44 267.74,147.51 268.42,147.32 269.11,147.34 269.80,147.28" fill="none" stroke="#1ee11e" stroke-width="1.7" stroke-linejoin="round"/>
<polyline points="61.00,202.06 61.09,201.49 61.17,200.93 61.26,200.38 61.35,199.84 61.44,199.31 61.52,198.80 61.70,197.79 61.87,196.83 62.04,195.89 62.22,194.99 62.39,194.13 62.57,193.29 62.74,192.48 62.91,191.71 63.09,190.96 63.26,190.24 63.44,189.55 63.61,188.87 64.05,187.28 64.73,185.03 65.42,183.03 66.11,181.27 66.80,179.68 67.49,178.27 68.17,176.97 68.86,175.80 69.55,174.74 70.24,173.74 70.93,172.80 71.61,171.96 72.30,171.11 72.99,170.31 73.68,169.61 74.37,168.92 75.06,168.24 75.74,167.65 76.43,167.02 77.12,166.39 77.81,165.82 78.50,165.28 79.18,164.73 79.87,164.24 80.56,163.77 81.25,163.24 81.94,162.76 82.62,162.34 83.31,161.89 84.00,161.44 84.69,161.04 85.38,160.65 86.07,160.16 86.75,159.77 87.44,159.40 88.13,159.00 88.82,158.67 89.51,158.37 90.19,157.96 90.88,157.62 91.57,157.31 92.26,156.86 92.95,156.48 93.64,156.17 94.32,155.80 95.01,155.48 95.70,155.20 96.39,154.92 97.08,154.54 97.76,154.23 98.45,153.94 99.14,153.67 99.83,153.38 100.52,153.27 101.20,153.07 101.89,152.73 102.58,152.54 103.27,152.32 103.96,151.97 104.65,151.63 105.33,151.51 106.02,151.14 106.71,150.91 107.40,150.65 108.09,150.48 108.77,150.23 109.46,150.05 110.15,149.80 110.84,149.72 111.53,149.43 112.22,149.24 112.90,149.02 113.59,148.89 114.28,148.76 114.97,148.76 115.66,148.57 116.34,148.42 117.03,148.12 117.72,147.84 118.41,147.62 119.10,147.52 119.78,147.41 120.47,147.34 121.16,147.32 121.85,147.07 122.54,146.77 123.23,146.47 123.91,146.40 124.60,146.11 125.29,146.05 125.98,146.07 126.67,146.15 127.35,146.02 128.04,145.85 128.73,145.70 129.42,145.38 130.11,145.22 130.79,145.12 131.48,145.00 132.17,144.88 132.86,144.81 133.55,144.57 134.24,144.40 134.92,144.26 135.61,144.24 136.30,144.17 136.99,144.09 137.68,143.95 138.36,143.88 139.05,143.80 139.74,143.76 140.43,143.69 141.12,143.67 141.81,143.64 142.49,143.27 143.18,143.10 143.87,143.07 144.56,142.96 145.25,142.71 145.93,142.99 146.62,142.94 147.31,142.75 148.00,142.63 148.69,142.61 149.37,142.39 150.06,142.29 150.75,142.24 151.44,142.11 152.13,142.06 152.82,141.90 153.50,141.73 154.19,141.67 154.88,141.63 155.57,141.58 156.26,141.52 156.94,141.63 157.63,141.67 158.32,141.65 159.01,141.53 159.70,141.48 160.39,141.33 161.07,140.91 161.76,140.65 162.45,140.61 163.14,140.54 163.83,140.34 164.51,140.52 165.20,140.44 165.89,140.32 166.58,140.10 167.27,140.18 167.95,139.99 168.64,140.14 169.33,140.12 170.02,140.08 170.71,139.91 171.40,140.04 172.08,139.79 172.77,139.68 173.46,139.69 174.15,139.73 174.84,139.55 175.52,139.58 176.21,139.48 176.90,139.38 177.59,139.18 178.28,139.05 178.97,139.04 179.65,139.03 180.34,138.85 181.03,138.95 181.72,138.91 182.41,138.82 183.09,138.83 183.78,138.91 184.47,138.70 185.16,138.60 185.85,138.46 186.53,138.26 187.22,138.34 187.91,138.28 188.60,138.25 189.29,138.24 189.98,138.25 190.66,138.14 191.35,138.05 192.04,138.08 192.73,138.12 193.42,138.06 194.10,137.98 194.79,138.01 195.48,137.79 196.17,137.64 196.86,137.58 197.54,137.32 198.23,137.36 198.92,137.38 199.61,137.23 200.30,137.08 200.99,137.02 201.67,136.92 202.36,136.84 203.05,136.88 203.74,136.97 204.43,137.13 205.11,137.13 205.80,137.10 206.49,136.98 207.18,136.97 207.87,136.81 208.56,136.69 209.24,136.74 209.93,136.93 210.62,136.72 211.31,136.67 212.00,136.60 212.68,136.50 213.37,136.35 214.06,136.34 214.75,136.35 215.44,136.23 216.12,136.14 216.81,136.10 217.50,136.19 218.19,136.11 218.88,136.22 219.57,136.16 220.25,135.94 220.94,135.87 221.63,135.80 222.32,135.62 223.01,135.55 223.69,135.61 224.38,135.47 225.07,135.43 225.76,135.25 226.45,135.18 227.14,135.05 227.82,135.09 228.51,135.05 229.20,135.18 229.89,135.18 230.58,135.15 231.26,134.94 231.95,134.87 232.64,134.75 233.33,134.70 234.02,134.57 234.70,134.66 235.39,134.65 236.08,134.51 236.77,134.47 237.46,134.46 238.15,134.28 238.83,134.09 239.52,134.06 240.21,134.12 240.90,134.13 241.59,134.12 242.27,134.16 242.96,134.16 243.65,133.86 244.34,133.73 245.03,133.79 245.71,133.85 246.40,133.98 247.09,133.94 247.78,133.99 248.47,133.87 249.16,133.89 249.84,133.72 250.53,133.77 251.22,133.75 251.91,133.72 252.60,133.61 253.28,133.39 253.97,133.41 254.66,133.44 255.35,133.41 256.04,133.34 256.73,133.45 257.41,133.38 258.10,133.31 258.79,133.24 259.48,133.14 260.17,133.19 260.85,132.98 261.54,132.73 262.23,132.80 262.92,132.81 263.61,132.59 264.29,132.59 264.98,132.53 265.67,132.49 266.36,132.50 267.05,132.56 267.74,132.57 268.42,132.73 269.11,132.52 269.80,132.36" fill="none" stroke="#45dfa8" stroke-width="1.7" stroke-linejoin="round"/>
<polyline points="61.00,202.05 61.09,201.32 61.17,200.59 61.26,199.88 61.35,199.18 61.44,198.49 61.52,197.80 61.70,196.47 61.87,195.18 62.04,193.93 62.22,192.71 62.39,191.53 62.57,190.38 62.74,189.26 62.91,188.18 63.09,187.13 63.26,186.11 63.44,185.12 63.61,184.15 64.05,181.86 64.73,178.54 65.42,175.59 66.11,172.93 66.80,170.54 67.49,168.39 68.17,166.44 68.86,164.64 69.55,163.03 70.24,161.55 70.93,160.19 71.61,158.94 72.30,157.83 72.99,156.75 73.68,155.78 74.37,154.87 75.06,154.07 75.74,153.26 76.43,152.58 77.12,151.85 77.81,151.19 78.50,150.53 79.18,149.93 79.87,149.33 80.56,148.84 81.25,148.36 81.94,147.89 82.62,147.39 83.31,146.95 84.00,146.52 84.69,146.08 85.38,145.64 86.07,145.23 86.75,144.86 87.44,144.45 88.13,144.03 88.82,143.71 89.51,143.43 90.19,143.06 90.88,142.77 91.57,142.54 92.26,142.24 92.95,141.96 93.64,141.66 94.32,141.37 95.01,141.14 95.70,140.86 96.39,140.58 97.08,140.34 97.76,140.04 98.45,139.68 99.14,139.48 99.83,139.24 100.52,139.11 101.20,138.91 101.89,138.75 102.58,138.51 103.27,138.33 103.96,138.08 104.65,137.97 105.33,137.76 106.02,137.44 106.71,137.26 107.40,136.93 108.09,136.67 108.77,136.59 109.46,136.49 110.15,136.20 110.84,136.10 111.53,135.94 112.22,135.59 112.90,135.47 113.59,135.32 114.28,135.14 114.97,135.02 115.66,135.08 116.34,135.02 117.03,134.94 117.72,134.81 118.41,134.73 119.10,134.51 119.78,134.16 120.47,134.11 121.16,133.97 121.85,133.69 122.54,133.45 123.23,133.53 123.91,133.25 124.60,133.26 125.29,133.06 125.98,133.06 126.67,132.80 127.35,132.76 128.04,132.53 128.73,132.63 129.42,132.42 130.11,132.29 130.79,132.11 131.48,131.88 132.17,131.62 132.86,131.47 133.55,131.37 134.24,131.11 134.92,131.18 135.61,131.12 136.30,131.10 136.99,130.98 137.68,131.01 138.36,130.79 139.05,130.64 139.74,130.56 140.43,130.51 141.12,130.40 141.81,130.55 142.49,130.37 143.18,130.27 143.87,130.20 144.56,130.12 145.25,129.86 145.93,129.99 146.62,129.87 147.31,129.64 148.00,129.49 148.69,129.28 149.37,129.12 150.06,129.03 150.75,128.96 151.44,128.84 152.13,128.85 152.82,128.79 153.50,128.84 154.19,128.73 154.88,128.88 155.57,128.76 156.26,128.53 156.94,128.03 157.63,128.05 158.32,127.85 159.01,127.77 159.70,127.71 160.39,127.78 161.07,127.66 161.76,127.63 162.45,127.76 163.14,127.69 163.83,127.77 164.51,127.64 165.20,127.60 165.89,127.34 166.58,127.34 167.27,127.28 167.95,127.18 168.64,126.99 169.33,126.94 170.02,126.75 170.71,126.67 171.40,126.75 172.08,126.74 172.77,126.49 173.46,126.45 174.15,126.27 174.84,126.07 175.52,125.96 176.21,126.06 176.90,126.14 177.59,126.08 178.28,126.08 178.97,126.03 179.65,125.84 180.34,125.78 181.03,125.72 181.72,125.78 182.41,125.76 183.09,125.81 183.78,125.49 184.47,125.54 185.16,125.44 185.85,125.38 186.53,125.13 187.22,125.12 187.91,124.93 188.60,124.61 189.29,124.42 189.98,124.68 190.66,124.70 191.35,124.76 192.04,124.69 192.73,124.76 193.42,124.49 194.10,124.43 194.79,124.30 195.48,124.39 196.17,124.22 196.86,124.23 197.54,124.22 198.23,124.17 198.92,124.19 199.61,124.18 200.30,124.05 200.99,123.90 201.67,123.74 202.36,123.61 203.05,123.31 203.74,123.31 204.43,123.31 205.11,123.20 205.80,123.18 206.49,123.25 207.18,123.05 207.87,122.91 208.56,122.96 209.24,122.75 209.93,122.67 210.62,122.73 211.31,122.75 212.00,122.69 212.68,122.83 213.37,122.87 214.06,122.85 214.75,122.66 215.44,122.50 216.12,122.36 216.81,122.26 217.50,122.19 218.19,122.26 218.88,122.30 219.57,122.13 220.25,121.99 220.94,121.79 221.63,121.64 222.32,121.76 223.01,121.67 223.69,121.53 224.38,121.44 225.07,121.28 225.76,120.91 226.45,120.70 227.14,120.72 227.82,120.60 228.51,120.55 229.20,120.51 229.89,120.68 230.58,120.67 231.26,120.82 231.95,120.77 232.64,120.79 233.33,120.81 234.02,120.78 234.70,120.72 235.39,120.58 236.08,120.51 236.77,120.34 237.46,120.31 238.15,120.24 238.83,120.22 239.52,120.15 240.21,120.08 240.90,119.77 241.59,119.46 242.27,119.42 242.96,119.30 243.65,119.24 244.34,119.35 245.03,119.29 245.71,119.38 246.40,119.36 247.09,119.48 247.78,119.49 248.47,119.56 249.16,119.36 249.84,119.27 250.53,119.08 251.22,118.97 251.91,118.98 252.60,118.99 253.28,118.86 253.97,118.66 254.66,118.50 255.35,118.44 256.04,118.42 256.73,118.43 257.41,118.50 258.10,118.62 258.79,118.41 259.48,118.27 260.17,118.26 260.85,118.25 261.54,118.11 262.23,118.09 262.92,118.10 263.61,118.01 264.29,117.82 264.98,117.54 265.67,117.50 266.36,117.37 267.05,117.35 267.74,117.27 268.42,117.28 269.11,117.30 269.80,117.19" fill="none" stroke="#5599f2" stroke-width="1.7" stroke-linejoin="round"/>
<polyline points="61.00,202.05 61.09,201.04 61.17,200.05 61.26,199.07 61.35,198.11 61.44,197.17 61.52,196.24 61.70,194.43 61.87,192.68 62.04,190.98 62.22,189.35 62.39,187.76 62.57,186.23 62.74,184.75 62.91,183.31 63.09,181.92 63.26,180.58 63.44,179.28 63.61,178.02 64.05,175.03 64.73,170.77 65.42,167.00 66.11,163.65 66.80,160.72 67.49,158.11 68.17,155.75 68.86,153.63 69.55,151.76 70.24,150.00 70.93,148.43 71.61,147.02 72.30,145.74 72.99,144.52 73.68,143.47 74.37,142.47 75.06,141.53 75.74,140.67 76.43,139.85 77.12,139.07 77.81,138.33 78.50,137.65 79.18,137.03 79.87,136.41 80.56,135.78 81.25,135.25 81.94,134.74 82.62,134.15 83.31,133.70 84.00,133.24 84.69,132.70 85.38,132.22 86.07,131.71 86.75,131.20 87.44,130.73 88.13,130.36 88.82,129.94 89.51,129.52 90.19,129.11 90.88,128.76 91.57,128.42 92.26,128.12 92.95,127.84 93.64,127.54 94.32,127.29 95.01,126.91 95.70,126.52 96.39,126.20 97.08,125.92 97.76,125.41 98.45,125.06 99.14,124.84 99.83,124.60 100.52,124.23 101.20,124.04 101.89,123.79 102.58,123.44 103.27,123.13 103.96,122.93 104.65,122.75 105.33,122.47 106.02,122.37 106.71,122.15 107.40,121.80 108.09,121.54 108.77,121.42 109.46,120.88 110.15,120.52 110.84,120.38 111.53,120.14 112.22,119.84 112.90,119.78 113.59,119.65 114.28,119.47 114.97,119.18 115.66,118.99 116.34,118.90 117.03,118.77 117.72,118.52 118.41,118.44 119.10,118.40 119.78,117.95 120.47,117.62 121.16,117.48 121.85,117.25 122.54,116.83 123.23,116.65 123.91,116.57 124.60,116.32 125.29,116.15 125.98,116.00 126.67,116.05 127.35,115.99 128.04,115.86 128.73,115.65 129.42,115.45 130.11,115.25 130.79,114.80 131.48,114.64 132.17,114.34 132.86,114.29 133.55,113.94 134.24,113.92 134.92,113.77 135.61,113.68 136.30,113.67 136.99,113.77 137.68,113.45 138.36,113.47 139.05,113.47 139.74,113.12 140.43,112.75 141.12,112.84 141.81,112.56 142.49,112.49 143.18,112.45 143.87,112.36 144.56,112.16 145.25,112.05 145.93,111.79 146.62,111.62 147.31,111.58 148.00,111.52 148.69,111.49 149.37,111.36 150.06,111.36 150.75,111.17 151.44,110.83 152.13,110.49 152.82,110.22 153.50,110.10 154.19,110.07 154.88,110.24 155.57,110.34 156.26,110.61 156.94,110.52 157.63,110.36 158.32,110.12 159.01,109.84 159.70,109.47 160.39,109.19 161.07,109.24 161.76,109.22 162.45,109.17 163.14,109.06 163.83,109.07 164.51,108.95 165.20,108.89 165.89,108.72 166.58,108.69 167.27,108.59 167.95,108.53 168.64,108.36 169.33,108.57 170.02,108.55 170.71,108.49 171.40,108.39 172.08,108.32 172.77,108.04 173.46,107.66 174.15,107.51 174.84,107.31 175.52,107.32 176.21,107.43 176.90,107.52 177.59,107.27 178.28,107.35 178.97,107.20 179.65,106.86 180.34,106.88 181.03,107.21 181.72,106.94 182.41,106.87 183.09,106.83 183.78,106.85 184.47,106.47 185.16,106.40 185.85,106.38 186.53,106.32 187.22,106.22 187.91,106.27 188.60,106.38 189.29,106.28 189.98,106.32 190.66,106.08 191.35,105.98 192.04,105.93 192.73,105.70 193.42,105.51 194.10,105.46 194.79,105.38 195.48,105.14 196.17,105.21 196.86,105.28 197.54,105.29 198.23,105.20 198.92,105.19 199.61,105.03 200.30,105.04 200.99,104.95 201.67,104.98 202.36,104.95 203.05,104.92 203.74,104.69 204.43,104.71 205.11,104.50 205.80,104.42 206.49,104.31 207.18,104.14 207.87,104.04 208.56,104.15 209.24,104.07 209.93,104.02 210.62,104.04 211.31,104.05 212.00,104.05 212.68,104.08 213.37,104.18 214.06,104.09 214.75,103.92 215.44,103.62 216.12,103.48 216.81,103.18 217.50,103.17 218.19,103.07 218.88,103.13 219.57,103.02 220.25,103.01 220.94,102.88 221.63,102.76 222.32,102.72 223.01,102.66 223.69,102.54 224.38,102.53 225.07,102.60 225.76,102.51 226.45,102.54 227.14,102.63 227.82,102.47 228.51,102.35 229.20,102.28 229.89,102.24 230.58,102.30 231.26,102.16 231.95,102.19 232.64,102.12 233.33,102.03 234.02,101.86 234.70,102.06 235.39,101.95 236.08,101.77 236.77,101.74 237.46,101.66 238.15,101.57 238.83,101.46 239.52,101.60 240.21,101.44 240.90,101.52 241.59,101.63 242.27,101.76 242.96,101.73 243.65,101.82 244.34,101.71 245.03,101.39 245.71,101.32 246.40,101.14 247.09,100.97 247.78,100.96 248.47,101.09 249.16,100.89 249.84,100.84 250.53,100.83 251.22,100.73 251.91,100.59 252.60,100.70 253.28,100.68 253.97,100.57 254.66,100.34 255.35,100.40 256.04,100.31 256.73,100.26 257.41,100.29 258.10,100.43 258.79,100.27 259.48,100.16 260.17,100.12 260.85,99.97 261.54,100.03 262.23,99.93 262.92,100.06 263.61,99.85 264.29,99.75 264.98,99.61 265.67,99.51 266.36,99.27 267.05,99.34 267.74,99.30 268.42,99.16 269.11,99.20 269.80,99.08" fill="none" stroke="#f2557d" stroke-width="1.7" stroke-linejoin="round"/>
<polyline points="61.00,202.05 61.09,150.50 61.17,135.96 61.26,131.50 61.35,129.81 61.44,128.89 61.52,128.18 61.70,126.93 61.87,125.77 62.04,124.67 62.22,123.63 62.39,122.65 62.57,121.71 62.74,120.82 62.91,119.98 63.09,119.18 63.26,118.40 63.44,117.67 63.61,116.97 64.05,115.38 64.73,113.23 65.42,111.46 66.11,109.99 66.80,108.77 67.49,107.73 68.17,106.86 68.86,106.09 69.55,105.44 70.24,104.86 70.93,104.34 71.61,103.85 72.30,103.42 72.99,103.07 73.68,102.71 74.37,102.35 75.06,102.03 75.74,101.74 76.43,101.40 77.12,101.12 77.81,100.82 78.50,100.54 79.18,100.32 79.87,100.09 80.56,99.90 81.25,99.72 81.94,99.56 82.62,99.40 83.31,99.20 84.00,99.01 84.69,98.85 85.38,98.64 86.07,98.37 86.75,98.18 87.44,97.88 88.13,97.57 88.82,97.31 89.51,97.18 90.19,97.07 90.88,96.94 91.57,96.89 92.26,96.86 92.95,96.72 93.64,96.54 94.32,96.35 95.01,96.05 95.70,95.66 96.39,95.45 97.08,95.20 97.76,95.08 98.45,95.11 99.14,95.06 99.83,94.84 100.52,94.69 101.20,94.40 101.89,94.15 102.58,93.91 103.27,93.80 103.96,93.53 104.65,93.44 105.33,93.26 106.02,93.14 106.71,93.06 107.40,93.04 108.09,92.89 108.77,92.78 109.46,92.67 110.15,92.49 110.84,92.40 111.53,92.27 112.22,92.09 112.90,92.05 113.59,91.74 114.28,91.42 114.97,91.20 115.66,91.02 116.34,90.89 117.03,90.67 117.72,90.68 118.41,90.60 119.10,90.47 119.78,90.23 120.47,90.30 121.16,90.18 121.85,90.14 122.54,90.09 123.23,89.87 123.91,89.84 124.60,89.56 125.29,89.35 125.98,89.23 126.67,89.32 127.35,89.15 128.04,89.32 128.73,89.25 129.42,89.11 130.11,89.01 130.79,88.82 131.48,88.47 132.17,88.47 132.86,88.30 133.55,88.20 134.24,87.88 134.92,87.94 135.61,87.85 136.30,87.93 136.99,87.74 137.68,87.80 138.36,87.57 139.05,87.43 139.74,87.04 140.43,86.86 141.12,86.94 141.81,86.88 142.49,86.93 143.18,87.07 143.87,86.90 144.56,86.93 145.25,87.00 145.93,86.72 146.62,86.93 147.31,86.89 148.00,86.86 148.69,86.70 149.37,86.65 150.06,86.15 150.75,86.20 151.44,86.17 152.13,86.21 152.82,86.10 153.50,86.42 154.19,86.44 154.88,86.24 155.57,85.88 156.26,85.69 156.94,85.67 157.63,85.52 158.32,85.28 159.01,85.40 159.70,85.55 160.39,85.33 161.07,85.36 161.76,85.33 162.45,85.02 163.14,84.71 163.83,84.54 164.51,84.54 165.20,84.41 165.89,84.84 166.58,85.12 167.27,84.95 167.95,84.53 168.64,84.68 169.33,84.28 170.02,84.19 170.71,84.22 171.40,84.44 172.08,84.38 172.77,84.29 173.46,84.13 174.15,84.00 174.84,83.96 175.52,83.96 176.21,83.94 176.90,83.77 177.59,83.87 178.28,83.63 178.97,83.39 179.65,83.40 180.34,83.44 181.03,83.35 181.72,83.57 182.41,83.47 183.09,83.27 183.78,83.28 184.47,83.21 185.16,83.08 185.85,83.06 186.53,82.95 187.22,82.93 187.91,82.83 188.60,82.76 189.29,82.73 189.98,82.69 190.66,82.68 191.35,82.92 192.04,82.89 192.73,83.11 193.42,83.04 194.10,82.98 194.79,82.73 195.48,82.64 196.17,82.39 196.86,82.60 197.54,82.48 198.23,82.29 198.92,82.32 199.61,82.09 200.30,81.96 200.99,82.20 201.67,82.17 202.36,82.31 203.05,82.46 203.74,82.20 204.43,81.75 205.11,81.96 205.80,81.81 206.49,81.82 207.18,81.88 207.87,82.07 208.56,81.77 209.24,81.60 209.93,81.58 210.62,81.75 211.31,81.43 212.00,81.71 212.68,81.85 213.37,81.70 214.06,81.54 214.75,81.86 215.44,81.76 216.12,81.74 216.81,81.75 217.50,81.92 218.19,81.57 218.88,81.34 219.57,81.14 220.25,81.16 220.94,80.99 221.63,81.03 222.32,81.10 223.01,81.07 223.69,80.98 224.38,81.03 225.07,80.98 225.76,80.98 226.45,81.08 227.14,81.13 227.82,80.90 228.51,80.81 229.20,80.97 229.89,80.81 230.58,80.87 231.26,81.09 231.95,81.29 232.64,81.10 233.33,81.18 234.02,81.14 234.70,81.05 235.39,81.13 236.08,81.23 236.77,81.28 237.46,81.37 238.15,81.30 238.83,81.27 239.52,81.12 240.21,80.95 240.90,80.71 241.59,80.76 242.27,80.49 242.96,80.46 243.65,80.42 244.34,80.40 245.03,80.56 245.71,80.62 246.40,80.42 247.09,80.41 247.78,80.52 248.47,80.10 249.16,80.11 249.84,80.13 250.53,80.41 251.22,80.35 251.91,80.62 252.60,80.58 253.28,80.57 253.97,80.28 254.66,80.31 255.35,80.57 256.04,80.50 256.73,80.47 257.41,80.42 258.10,80.44 258.79,80.04 259.48,80.00 260.17,80.06 260.85,79.82 261.54,79.81 262.23,80.01 262.92,80.06 263.61,79.97 264.29,80.26 264.98,80.18 265.67,80.08 266.36,80.27 267.05,80.50 267.74,80.68 268.42,80.64 269.11,80.49 269.80,80.22" fill="none" stroke="#ae55e2" stroke-width="1.7" stroke-linejoin="round"/>
<polyline points="61.00,202.06 61.09,151.02 61.17,130.66 61.26,122.41 61.35,118.95 61.44,117.36 61.52,116.53 61.70,115.58 61.87,114.86 62.04,114.20 62.22,113.56 62.39,112.93 62.57,112.31 62.74,111.71 62.91,111.11 63.09,110.54 63.26,109.97 63.44,109.41 63.61,108.86 64.05,107.55 64.73,105.61 65.42,103.81 66.11,102.16 66.80,100.61 67.49,99.21 68.17,97.87 68.86,96.67 69.55,95.57 70.24,94.58 70.93,93.63 71.61,92.73 72.30,91.91 72.99,91.10 73.68,90.32 74.37,89.58 75.06,88.93 75.74,88.25 76.43,87.72 77.12,87.23 77.81,86.75 78.50,86.27 79.18,85.86 79.87,85.41 80.56,85.00 81.25,84.69 81.94,84.34 82.62,84.10 83.31,83.72 84.00,83.34 84.69,82.91 85.38,82.74 86.07,82.35 86.75,82.10 87.44,81.91 88.13,81.62 88.82,81.26 89.51,81.11 90.19,80.93 90.88,80.64 91.57,80.51 92.26,80.39 92.95,80.20 93.64,79.97 94.32,79.85 95.01,79.62 95.70,79.40 96.39,79.03 97.08,78.72 97.76,78.63 98.45,78.56 99.14,78.21 99.83,78.13 100.52,78.07 101.20,77.69 101.89,77.54 102.58,77.55 103.27,77.51 103.96,77.30 104.65,77.29 105.33,77.10 106.02,77.17 106.71,76.77 107.40,76.62 108.09,76.51 108.77,76.21 109.46,76.06 110.15,76.03 110.84,76.15 111.53,75.64 112.22,75.93 112.90,75.67 113.59,75.62 114.28,75.21 114.97,75.31 115.66,74.84 116.34,74.60 117.03,74.12 117.72,74.18 118.41,74.12 119.10,73.83 119.78,73.83 120.47,74.09 121.16,73.74 121.85,73.61 122.54,73.90 123.23,73.62 123.91,73.14 124.60,73.21 125.29,73.05 125.98,72.74 126.67,72.73 127.35,72.67 128.04,72.38 128.73,72.22 129.42,72.15 130.11,71.93 130.79,72.03 131.48,72.01 132.17,72.14 132.86,72.10 133.55,71.82 134.24,71.92 134.92,71.96 135.61,71.87 136.30,71.78 136.99,72.06 137.68,71.92 138.36,71.65 139.05,71.55 139.74,71.50 140.43,70.98 141.12,70.97 141.81,70.85 142.49,70.66 143.18,70.67 143.87,70.89 144.56,70.67 145.25,70.55 145.93,70.38 146.62,70.14 147.31,70.17 148.00,70.29 148.69,70.43 149.37,70.70 150.06,70.61 150.75,70.38 151.44,70.00 152.13,69.75 152.82,69.45 153.50,69.27 154.19,69.20 154.88,69.02 155.57,68.98 156.26,68.69 156.94,68.48 157.63,68.49 158.32,68.80 159.01,68.76 159.70,68.75 160.39,68.99 161.07,68.59 161.76,68.29 162.45,68.34 163.14,68.39 163.83,68.44 164.51,68.85 165.20,68.85 165.89,68.95 166.58,68.95 167.27,68.68 167.95,68.76 168.64,68.77 169.33,68.46 170.02,68.75 170.71,68.74 171.40,68.50 172.08,68.62 172.77,68.48 173.46,67.91 174.15,67.87 174.84,67.69 175.52,67.13 176.21,67.07 176.90,67.18 177.59,66.93 178.28,66.79 178.97,66.99 179.65,67.03 180.34,67.04 181.03,67.03 181.72,67.04 182.41,67.01 183.09,67.14 183.78,66.96 184.47,66.86 185.16,66.71 185.85,66.72 186.53,66.50 187.22,66.65 187.91,66.92 188.60,66.96 189.29,66.67 189.98,66.61 190.66,66.35 191.35,65.93 192.04,65.73 192.73,65.86 193.42,65.80 194.10,65.88 194.79,65.98 195.48,65.98 196.17,65.89 196.86,66.19 197.54,66.13 198.23,66.19 198.92,66.25 199.61,66.26 200.30,66.17 200.99,66.35 201.67,66.16 202.36,65.99 203.05,65.83 203.74,65.63 204.43,65.06 205.11,65.02 205.80,65.10 206.49,64.99 207.18,64.96 207.87,65.11 208.56,65.13 209.24,65.02 209.93,65.10 210.62,65.12 211.31,65.11 212.00,64.96 212.68,65.14 213.37,65.19 214.06,65.25 214.75,65.16 215.44,65.33 216.12,65.03 216.81,65.04 217.50,64.72 218.19,64.91 218.88,64.91 219.57,64.93 220.25,64.84 220.94,65.03 221.63,64.78 222.32,64.69 223.01,64.56 223.69,64.10 224.38,64.06 225.07,64.22 225.76,64.40 226.45,64.74 227.14,65.00 227.82,64.84 228.51,64.72 229.20,64.40 229.89,64.33 230.58,64.64 231.26,64.50 231.95,64.48 232.64,64.35 233.33,64.21 234.02,63.82 234.70,64.03 235.39,64.05 236.08,64.21 236.77,64.13 237.46,64.01 238.15,63.82 238.83,64.22 239.52,64.19 240.21,64.22 240.90,64.29 241.59,64.34 242.27,63.99 242.96,64.07 243.65,64.10 244.34,64.30 245.03,64.09 245.71,63.88 246.40,63.73 247.09,63.52 247.78,63.08 248.47,63.30 249.16,63.37 249.84,63.40 250.53,63.71 251.22,64.10 251.91,64.19 252.60,64.09 253.28,63.96 253.97,63.63 254.66,63.64 255.35,63.33 256.04,63.53 256.73,63.60 257.41,63.53 258.10,63.21 258.79,63.18 259.48,62.71 260.17,62.51 260.85,62.72 261.54,62.91 262.23,63.17 262.92,63.43 263.61,63.68 264.29,63.72 264.98,63.81 265.67,63.93 266.36,63.58 267.05,63.32 267.74,63.52 268.42,63.30 269.11,63.11 269.80,63.78" fill="none" stroke="#f244e6" stroke-width="1.7" stroke-linejoin="round"/>
<g font-family='"Liberation Serif", serif' font-size="11.2" fill="#333">
<path d="M290.5,40.5 H307" stroke="#969696" stroke-width="1.8"/>
<text x="316.3" y="44.3">100 nM</text>
<path d="M290.5,53 H307" stroke="#f3b37a" stroke-width="1.8"/>
<text x="316.3" y="56.8">200 nM</text>
<path d="M290.5,67 H307" stroke="#f27a86" stroke-width="1.8"/>
<text x="316.3" y="70.8">400 nM</text>
<path d="M290.5,81.7 H307" stroke="#f7a055" stroke-width="1.8"/>
<text x="316.3" y="85.5">600 nM</text>
<path d="M290.5,95.8 H307" stroke="#b9b400" stroke-width="1.8"/>
<text x="316.3" y="99.6">800 nM</text>
<path d="M290.5,108 H307" stroke="#5252ee" stroke-width="1.8"/>
<text x="316.3" y="111.8">1000 nM</text>
<path d="M290.5,121.5 H307" stroke="#1ee11e" stroke-width="1.8"/>
<text x="316.3" y="125.3">1200 nM</text>
<path d="M290.5,134.7 H307" stroke="#45dfa8" stroke-width="1.8"/>
<text x="316.3" y="138.5">1400 nM</text>
<path d="M290.5,148 H307" stroke="#5599f2" stroke-width="1.8"/>
<text x="316.3" y="151.8">1600 nM</text>
<path d="M290.5,160.2 H307" stroke="#f2557d" stroke-width="1.8"/>
<text x="316.3" y="164.0">2000 nM</text>
<path d="M290.5,173.7 H307" stroke="#ae55e2" stroke-width="1.8"/>
<text x="316.3" y="177.5">3000 nM</text>
<path d="M290.5,186 H307" stroke="#f244e6" stroke-width="1.8"/>
<text x="316.3" y="189.8">4000 nM</text>
</g>
<g stroke="#5c5c5c" stroke-width="1.35" fill="none">
<path d="M407.8,39.4 V214.6 H670.8"/>
<path d="M407.8,214.6 H411.1"/>
<path d="M407.8,185.4 H411.1"/>
<path d="M407.8,156.2 H411.1"/>
<path d="M407.8,127.0 H411.1"/>
<path d="M407.8,97.8 H411.1"/>
<path d="M407.8,68.6 H411.1"/>
<path d="M407.8,39.4 H411.1"/>
<path d="M407.8,214.6 V211.1"/>
<path d="M440.7,214.6 V211.1"/>
<path d="M473.6,214.6 V211.1"/>
<path d="M506.4,214.6 V211.1"/>
<path d="M539.3,214.6 V211.1"/>
<path d="M572.2,214.6 V211.1"/>
<path d="M605.0,214.6 V211.1"/>
<path d="M637.9,214.6 V211.1"/>
<path d="M670.8,214.6 V211.1"/>
</g>
<g font-family='"Liberation Serif", serif' fill="#282828" font-size="9">
<text x="405.5" y="217.7" text-anchor="end">0.0</text>
<text x="405.5" y="188.5" text-anchor="end">0.2</text>
<text x="405.5" y="159.3" text-anchor="end">0.4</text>
<text x="405.5" y="130.1" text-anchor="end">0.6</text>
<text x="405.5" y="100.9" text-anchor="end">0.8</text>
<text x="405.5" y="71.7" text-anchor="end">1.0</text>
<text x="405.5" y="42.5" text-anchor="end">1.2</text>
<text x="407.8" y="225.4" text-anchor="middle">0</text>
<text x="440.7" y="225.4" text-anchor="middle">500</text>
<text x="473.6" y="225.4" text-anchor="middle">1000</text>
<text x="506.4" y="225.4" text-anchor="middle">1500</text>
<text x="539.3" y="225.4" text-anchor="middle">2000</text>
<text x="572.2" y="225.4" text-anchor="middle">2500</text>
<text x="605.0" y="225.4" text-anchor="middle">3000</text>
<text x="637.9" y="225.4" text-anchor="middle">3500</text>
<text x="670.8" y="225.4" text-anchor="middle">4000</text>
</g>
<text x="539.2" y="240" font-family='"Liberation Serif", serif' font-weight="bold" font-size="11" fill="#111" text-anchor="middle">Concentration (nM)</text>
<text transform="translate(388.6,127.1) rotate(-90)" font-family='"Liberation Serif", serif' font-weight="bold" font-size="10.8" fill="#111" text-anchor="middle">Response (nm)</text>
<polyline points="413.06,202.28 414.36,201.58 415.65,200.86 416.95,200.13 418.24,199.38 419.54,198.62 420.83,197.85 422.13,197.06 423.42,196.26 424.72,195.44 426.01,194.61 427.31,193.76 428.60,192.91 429.90,192.03 431.19,191.14 432.49,190.24 433.78,189.33 435.08,188.40 436.37,187.45 437.67,186.49 438.96,185.52 440.26,184.54 441.55,183.54 442.85,182.53 444.14,181.50 445.44,180.46 446.73,179.41 448.03,178.35 449.32,177.27 450.62,176.19 451.92,175.09 453.21,173.98 454.51,172.85 455.80,171.72 457.10,170.58 458.39,169.43 459.69,168.26 460.98,167.09 462.28,165.91 463.57,164.72 464.87,163.52 466.16,162.32 467.46,161.10 468.75,159.88 470.05,158.66 471.34,157.43 472.64,156.19 473.93,154.95 475.23,153.70 476.52,152.45 477.82,151.20 479.11,149.94 480.41,148.68 481.70,147.42 483.00,146.16 484.29,144.90 485.59,143.63 486.89,142.37 488.18,141.11 489.48,139.85 490.77,138.60 492.07,137.34 493.36,136.09 494.66,134.84 495.95,133.60 497.25,132.36 498.54,131.13 499.84,129.90 501.13,128.68 502.43,127.46 503.72,126.25 505.02,125.05 506.31,123.86 507.61,122.68 508.90,121.50 510.20,120.33 511.49,119.18 512.79,118.03 514.08,116.90 515.38,115.77 516.67,114.66 517.97,113.55 519.26,112.46 520.56,111.38 521.85,110.31 523.15,109.26 524.45,108.22 525.74,107.19 527.04,106.17 528.33,105.17 529.63,104.18 530.92,103.20 532.22,102.24 533.51,101.29 534.81,100.36 536.10,99.44 537.40,98.53 538.69,97.64 539.99,96.76 541.28,95.89 542.58,95.04 543.87,94.21 545.17,93.39 546.46,92.58 547.76,91.79 549.05,91.01 550.35,90.24 551.64,89.49 552.94,88.76 554.23,88.03 555.53,87.32 556.82,86.63 558.12,85.95 559.41,85.28 560.71,84.62 562.01,83.98 563.30,83.35 564.60,82.74 565.89,82.14 567.19,81.55 568.48,80.97 569.78,80.40 571.07,79.85 572.37,79.31 573.66,78.78 574.96,78.26 576.25,77.76 577.55,77.26 578.84,76.78 580.14,76.31 581.43,75.85 582.73,75.40 584.02,74.96 585.32,74.53 586.61,74.11 587.91,73.70 589.20,73.30 590.50,72.91 591.79,72.53 593.09,72.16 594.38,71.79 595.68,71.44 596.97,71.10 598.27,70.76 599.57,70.43 600.86,70.11 602.16,69.80 603.45,69.50 604.75,69.20 606.04,68.91 607.34,68.63 608.63,68.36 609.93,68.09 611.22,67.83 612.52,67.58 613.81,67.33 615.11,67.09 616.40,66.85 617.70,66.63 618.99,66.40 620.29,66.19 621.58,65.98 622.88,65.77 624.17,65.57 625.47,65.38 626.76,65.19 628.06,65.00 629.35,64.83 630.65,64.65 631.94,64.48 633.24,64.32 634.54,64.16 635.83,64.00 637.13,63.85 638.42,63.70 639.72,63.56 641.01,63.42 642.31,63.28 643.60,63.15 644.90,63.02 646.19,62.89 647.49,62.77 648.78,62.65 650.08,62.54 651.37,62.42 652.67,62.32 653.96,62.21 655.26,62.11 656.55,62.01 657.85,61.91 659.14,61.81 660.44,61.72 661.73,61.63 663.03,61.55 664.32,61.46 665.62,61.38 666.91,61.30 668.21,61.22 669.50,61.15 670.80,61.07" fill="none" stroke="#111" stroke-width="1.4"/>
<path d="M414.4,201.6 V207.4 M412.1,201.6 H416.7 M412.1,207.4 H416.7" stroke="#151515" stroke-width="1.4" fill="none"/><circle cx="414.4" cy="204.5" r="2.4" fill="#111"/>
<path d="M420.9,196.8 V201.5 M418.6,196.8 H423.2 M418.6,201.5 H423.2" stroke="#151515" stroke-width="1.4" fill="none"/><circle cx="420.9" cy="199.1" r="2.4" fill="#111"/>
<path d="M434.1,179.1 V193.1 M431.8,179.1 H436.4 M431.8,193.1 H436.4" stroke="#151515" stroke-width="1.4" fill="none"/><circle cx="434.1" cy="186.1" r="2.4" fill="#111"/>
<path d="M447.2,166.7 V179.0 M444.9,166.7 H449.6 M444.9,179.0 H449.6" stroke="#151515" stroke-width="1.4" fill="none"/><circle cx="447.2" cy="172.8" r="2.4" fill="#111"/>
<path d="M460.4,163.4 V168.3 M458.1,163.4 H462.7 M458.1,168.3 H462.7" stroke="#151515" stroke-width="1.4" fill="none"/><circle cx="460.4" cy="165.8" r="2.4" fill="#111"/>
<path d="M473.6,155.0 V162.6 M471.2,155.0 H475.9 M471.2,162.6 H475.9" stroke="#151515" stroke-width="1.4" fill="none"/><circle cx="473.6" cy="158.8" r="2.4" fill="#111"/>
<path d="M486.7,144.4 V153.7 M484.4,144.4 H489.0 M484.4,153.7 H489.0" stroke="#151515" stroke-width="1.4" fill="none"/><circle cx="486.7" cy="149.0" r="2.4" fill="#111"/>
<path d="M499.9,129.2 V136.2 M497.6,129.2 H502.2 M497.6,136.2 H502.2" stroke="#151515" stroke-width="1.4" fill="none"/><circle cx="499.9" cy="132.7" r="2.4" fill="#111"/>
<path d="M513.0,112.8 V120.4 M510.7,112.8 H515.3 M510.7,120.4 H515.3" stroke="#151515" stroke-width="1.4" fill="none"/><circle cx="513.0" cy="116.6" r="2.4" fill="#111"/>
<path d="M539.3,86.7 V99.0 M537.0,86.7 H541.6 M537.0,99.0 H541.6" stroke="#151515" stroke-width="1.4" fill="none"/><circle cx="539.3" cy="92.8" r="2.4" fill="#111"/>
<path d="M605.0,67.0 V82.8 M602.8,67.0 H607.3 M602.8,82.8 H607.3" stroke="#151515" stroke-width="1.4" fill="none"/><circle cx="605.0" cy="74.9" r="2.4" fill="#111"/>
<path d="M670.8,48.9 V68.5 M668.5,48.9 H673.1 M668.5,68.5 H673.1" stroke="#151515" stroke-width="1.4" fill="none"/><circle cx="670.8" cy="58.7" r="2.4" fill="#111"/>
<g stroke="#5c5c5c" stroke-width="1.35" fill="none">
<rect x="57.5" y="310.6" width="222.8" height="148.2"/>
<path d="M57.5,429.2 H61.5"/>
<path d="M57.5,399.5 H61.5"/>
<path d="M57.5,369.9 H61.5"/>
<path d="M57.5,340.2 H61.5"/>
<path d="M79.8,458.8 V455.3"/>
<path d="M102.1,458.8 V455.3"/>
<path d="M124.3,458.8 V455.3"/>
<path d="M146.6,458.8 V455.3"/>
<path d="M168.9,458.8 V455.3"/>
<path d="M191.2,458.8 V455.3"/>
<path d="M213.5,458.8 V455.3"/>
<path d="M235.7,458.8 V455.3"/>
<path d="M258.0,458.8 V455.3"/>
</g>
<g font-family='"Liberation Serif", serif' fill="#2c2c2c" font-size="10">
<text x="55.5" y="462.2" text-anchor="end">0.0</text>
<text x="55.5" y="432.6" text-anchor="end">0.2</text>
<text x="55.5" y="402.9" text-anchor="end">0.4</text>
<text x="55.5" y="373.3" text-anchor="end">0.6</text>
<text x="55.5" y="343.6" text-anchor="end">0.8</text>
<text x="55.5" y="314.0" text-anchor="end">1.0</text>
<text x="57.5" y="470.8" text-anchor="middle">0</text>
<text x="79.8" y="470.8" text-anchor="middle">200</text>
<text x="102.1" y="470.8" text-anchor="middle">400</text>
<text x="124.3" y="470.8" text-anchor="middle">600</text>
<text x="146.6" y="470.8" text-anchor="middle">800</text>
<text x="168.9" y="470.8" text-anchor="middle">1000</text>
<text x="191.2" y="470.8" text-anchor="middle">1200</text>
<text x="213.5" y="470.8" text-anchor="middle">1400</text>
<text x="235.7" y="470.8" text-anchor="middle">1600</text>
<text x="258.0" y="470.8" text-anchor="middle">1800</text>
<text x="280.3" y="470.8" text-anchor="middle">2000</text>
<text x="105.5" y="362.8" font-size="10.5">y = 0.0004x+0.0244</text>
<text x="105.8" y="375.4" font-size="10.5">R<tspan font-size="7" dy="-4">2</tspan><tspan dy="4">=0.9735</tspan></text>
</g>
<text x="168.8" y="486.6" font-family='"Liberation Serif", serif' font-weight="bold" font-size="12.2" fill="#111" text-anchor="middle" style="white-space:pre">Concentration  (nM)</text>
<text transform="translate(35.3,383.8) rotate(-90)" font-family='"Liberation Serif", serif' font-weight="bold" font-size="12.2" fill="#111" text-anchor="middle">Response (nm)</text>
<path d="M79.8,442.9 L280.3,338.0" stroke="#111" stroke-width="1.4"/>
<path d="M79.8,441.0 V444.9 M77.5,441.0 H82.1 M77.5,444.9 H82.1" stroke="#151515" stroke-width="1.4" fill="none"/><circle cx="79.8" cy="442.9" r="2.4" fill="#111"/>
<path d="M102.1,422.0 V436.3 M99.8,422.0 H104.4 M99.8,436.3 H104.4" stroke="#151515" stroke-width="1.4" fill="none"/><circle cx="102.1" cy="429.2" r="2.4" fill="#111"/>
<path d="M124.3,409.9 V422.3 M122.0,409.9 H126.6 M122.0,422.3 H126.6" stroke="#151515" stroke-width="1.4" fill="none"/><circle cx="124.3" cy="416.1" r="2.4" fill="#111"/>
<path d="M146.6,406.9 V410.5 M144.3,406.9 H148.9 M144.3,410.5 H148.9" stroke="#151515" stroke-width="1.4" fill="none"/><circle cx="146.6" cy="408.7" r="2.4" fill="#111"/>
<path d="M168.9,398.0 V405.7 M166.6,398.0 H171.2 M166.6,405.7 H171.2" stroke="#151515" stroke-width="1.4" fill="none"/><circle cx="168.9" cy="401.9" r="2.4" fill="#111"/>
<path d="M191.2,386.8 V396.3 M188.9,386.8 H193.5 M188.9,396.3 H193.5" stroke="#151515" stroke-width="1.4" fill="none"/><circle cx="191.2" cy="391.5" r="2.4" fill="#111"/>
<path d="M213.5,370.8 V377.9 M211.2,370.8 H215.8 M211.2,377.9 H215.8" stroke="#151515" stroke-width="1.4" fill="none"/><circle cx="213.5" cy="374.3" r="2.4" fill="#111"/>
<path d="M235.7,354.2 V361.9 M233.4,354.2 H238.0 M233.4,361.9 H238.0" stroke="#151515" stroke-width="1.4" fill="none"/><circle cx="235.7" cy="358.0" r="2.4" fill="#111"/>
<path d="M280.3,327.5 V339.9 M278.0,327.5 H282.6 M278.0,339.9 H282.6" stroke="#151515" stroke-width="1.4" fill="none"/><circle cx="280.3" cy="333.7" r="2.4" fill="#111"/>
<rect x="424.2" y="345.9" width="28.6" height="137.3" fill="#fda09f"/>
<path d="M438.5,345.9 V339.1 M431.0,339.1 H446.0" stroke="#fda09f" stroke-width="1.1" fill="none"/>
<rect x="467.4" y="467.7" width="28.6" height="15.5" fill="#f2b27c"/>
<path d="M481.7,467.7 V464.6 M474.2,464.6 H489.2" stroke="#f2b27c" stroke-width="1.1" fill="none"/>
<rect x="510.7" y="477.4" width="28.6" height="5.8" fill="#88b8f5"/>
<path d="M525.0,477.4 V476.5 M517.5,476.5 H532.5" stroke="#88b8f5" stroke-width="1.1" fill="none"/>
<rect x="553.9" y="474.3" width="28.6" height="8.9" fill="#dd7cf0"/>
<path d="M568.2,474.3 V473.1 M560.7,473.1 H575.7" stroke="#dd7cf0" stroke-width="1.1" fill="none"/>
<rect x="603.9" y="481.8" width="15" height="1.4" fill="#f5b668"/>
<rect x="640.3" y="473.9" width="28.6" height="9.3" fill="#f898cc"/>
<path d="M654.6,473.9 V472.4 M647.1,472.4 H662.1" stroke="#f898cc" stroke-width="1.1" fill="none"/>
<g stroke="#444" stroke-width="1.3" fill="none">
<path d="M417.0,311.2 V483.2 H676.2"/>
<path d="M417.0,483.2 H422.0"/>
<path d="M417.0,448.8 H422.0"/>
<path d="M417.0,414.4 H422.0"/>
<path d="M417.0,380.0 H422.0"/>
<path d="M417.0,345.6 H422.0"/>
<path d="M417.0,311.2 H422.0"/>
<path d="M438.5,483.2 V478.7"/>
<path d="M481.7,483.2 V478.7"/>
<path d="M525.0,483.2 V478.7"/>
<path d="M568.2,483.2 V478.7"/>
<path d="M611.4,483.2 V478.7"/>
<path d="M654.6,483.2 V478.7"/>
<path d="M438.5,299.3 V292.5 H569.7 V443.6"/>
<path d="M482,448.2 V443.6 H655.1 V447.9"/>
</g>
<g font-family='"Liberation Serif", serif' fill="#2c2c2c" font-size="11.5">
<text x="414.3" y="487.1" text-anchor="end">0.0</text>
<text x="414.3" y="452.7" text-anchor="end">0.1</text>
<text x="414.3" y="418.3" text-anchor="end">0.2</text>
<text x="414.3" y="383.9" text-anchor="end">0.3</text>
<text x="414.3" y="349.5" text-anchor="end">0.4</text>
<text x="414.3" y="315.1" text-anchor="end">0.5</text>
<text transform="translate(439.9,491.0) rotate(-45)" text-anchor="end" dy="3.8" font-size="12.2">PbTx-1</text>
<text transform="translate(483.1,491.0) rotate(-45)" text-anchor="end" dy="3.8" font-size="12.2">PbTx-2</text>
<text transform="translate(526.4,491.0) rotate(-45)" text-anchor="end" dy="3.8" font-size="12.2">GTX</text>
<text transform="translate(569.6,491.0) rotate(-45)" text-anchor="end" dy="3.8" font-size="12.2">STX</text>
<text transform="translate(612.8,491.0) rotate(-45)" text-anchor="end" dy="3.8" font-size="12.2">OA</text>
<text transform="translate(656.0,491.0) rotate(-45)" text-anchor="end" dy="3.8" font-size="12.2">PTX</text>
</g>
<text x="504.3" y="292.6" font-family='"Liberation Serif", serif' font-weight="bold" font-size="12.5" letter-spacing="-0.6" fill="#333" text-anchor="middle">***</text>
<text transform="translate(394.3,397.4) rotate(-90)" font-family='"Liberation Serif", serif' font-weight="bold" font-size="14" fill="#111" text-anchor="middle">Response (nm)</text>
</svg>
</body></html>
